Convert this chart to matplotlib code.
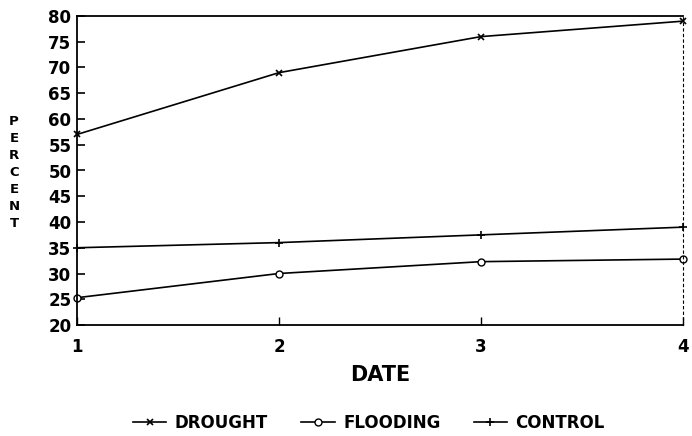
import matplotlib
matplotlib.use("Agg")
import matplotlib.pyplot as plt

dates = [1, 2, 3, 4]
drought = [57, 69, 76, 79]
flooding = [25.3, 30, 32.3, 32.8]
control = [35, 36, 37.5, 39]
yticks = list(range(20, 81, 5))

plt.rcParams['font.family'] = ['DejaVu Sans']
plt.rcParams['font.weight'] = 'bold'

fig = plt.figure(figsize=(6.92, 4.36), dpi=100)
ax = fig.add_axes([77/692, 1 - 325/436, (683-77)/692, (325-16)/436])

ax.plot(dates, drought, color='black', lw=1.2, marker='x', ms=5, mew=1.2, label='DROUGHT', clip_on=False)
ax.plot(dates, flooding, color='black', lw=1.2, marker='o', ms=5, mfc='white', mew=1.0, label='FLOODING', clip_on=False)
ax.plot(dates, control, color='black', lw=1.2, marker='+', ms=6, mew=1.2, label='CONTROL', clip_on=False)

ax.set_xlim(1, 4)
ax.set_ylim(20, 80)
ax.set_xticks(dates)
ax.set_yticks(yticks)
ax.tick_params(axis='y', direction='in', length=6, width=1.2, pad=4, labelsize=12)
ax.tick_params(axis='x', direction='in', length=6, width=1.0, pad=9, labelsize=12)
for lab in ax.get_xticklabels() + ax.get_yticklabels():
    lab.set_fontweight('bold')
for s in ['left', 'bottom', 'top']:
    ax.spines[s].set_linewidth(1.3)
ax.spines['right'].set_linewidth(0.8)
ax.spines['right'].set_linestyle((0, (2, 3)))

ax.set_xlabel('DATE', fontsize=15, fontweight='bold', labelpad=7)
fig.text(14/692, 1 - 172/436, "P\nE\nR\nC\nE\nN\nT", ha='center', va='center',
         fontsize=9.5, fontweight='bold', linespacing=1.4)

fig.legend(loc='center', bbox_to_anchor=(369/692, 1 - 423/436), ncol=3, frameon=False,
           prop={'weight': 'bold', 'size': 12}, handlelength=2.0, columnspacing=2.0,
           handletextpad=0.5)

fig.savefig('out.png', dpi=100)
